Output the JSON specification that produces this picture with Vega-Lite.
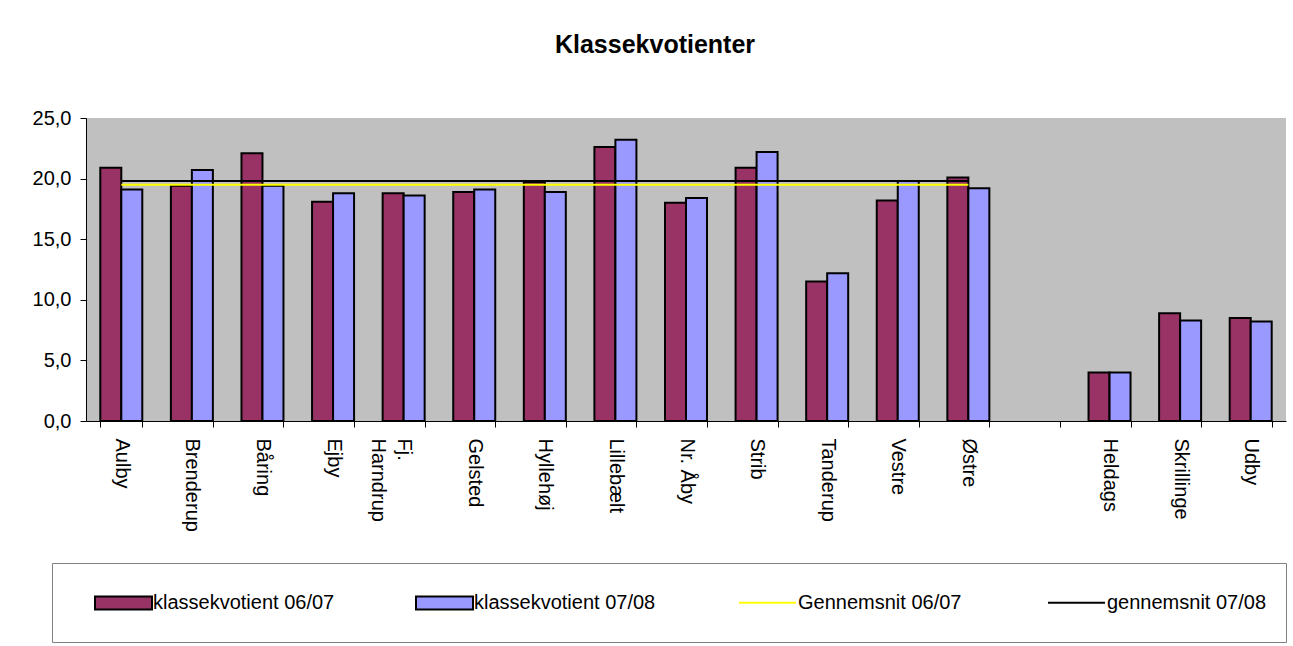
{
  "$schema": "https://vega.github.io/schema/vega-lite/v6.json",
  "autosize": "none",
  "width": 1200,
  "height": 303,
  "padding": {"left": 86, "top": 118, "right": 7, "bottom": 225},
  "background": "white",
  "title": {"text": "Klassekvotienter", "anchor": "middle", "frame": "group", "dx": -31, "offset": 30, "baseline": "alphabetic", "fontSize": 25, "font": "Liberation Sans", "fontWeight": "bold", "color": "#000000"},
  "config": {
    "font": "Liberation Sans",
    "view": {"fill": "#C0C0C0", "stroke": null}
  },
  "datasets": {
    "bars": [
      {"school": "Aulby", "series": "klassekvotient 06/07", "value": 20.9},
      {"school": "Aulby", "series": "klassekvotient 07/08", "value": 19.1},
      {"school": "Brenderup", "series": "klassekvotient 06/07", "value": 19.4},
      {"school": "Brenderup", "series": "klassekvotient 07/08", "value": 20.7},
      {"school": "Båring", "series": "klassekvotient 06/07", "value": 22.1},
      {"school": "Båring", "series": "klassekvotient 07/08", "value": 19.4},
      {"school": "Ejby", "series": "klassekvotient 06/07", "value": 18.1},
      {"school": "Ejby", "series": "klassekvotient 07/08", "value": 18.8},
      {"school": "Fj. Harndrup", "series": "klassekvotient 06/07", "value": 18.8},
      {"school": "Fj. Harndrup", "series": "klassekvotient 07/08", "value": 18.6},
      {"school": "Gelsted", "series": "klassekvotient 06/07", "value": 18.9},
      {"school": "Gelsted", "series": "klassekvotient 07/08", "value": 19.1},
      {"school": "Hyllehøj", "series": "klassekvotient 06/07", "value": 19.7},
      {"school": "Hyllehøj", "series": "klassekvotient 07/08", "value": 18.9},
      {"school": "Lillebælt", "series": "klassekvotient 06/07", "value": 22.6},
      {"school": "Lillebælt", "series": "klassekvotient 07/08", "value": 23.2},
      {"school": "Nr. Åby", "series": "klassekvotient 06/07", "value": 18.0},
      {"school": "Nr. Åby", "series": "klassekvotient 07/08", "value": 18.4},
      {"school": "Strib", "series": "klassekvotient 06/07", "value": 20.9},
      {"school": "Strib", "series": "klassekvotient 07/08", "value": 22.2},
      {"school": "Tanderup", "series": "klassekvotient 06/07", "value": 11.5},
      {"school": "Tanderup", "series": "klassekvotient 07/08", "value": 12.2},
      {"school": "Vestre", "series": "klassekvotient 06/07", "value": 18.2},
      {"school": "Vestre", "series": "klassekvotient 07/08", "value": 19.8},
      {"school": "Østre", "series": "klassekvotient 06/07", "value": 20.1},
      {"school": "Østre", "series": "klassekvotient 07/08", "value": 19.2},
      {"school": "Heldags", "series": "klassekvotient 06/07", "value": 4.0},
      {"school": "Heldags", "series": "klassekvotient 07/08", "value": 4.0},
      {"school": "Skrillinge", "series": "klassekvotient 06/07", "value": 8.9},
      {"school": "Skrillinge", "series": "klassekvotient 07/08", "value": 8.3},
      {"school": "Udby", "series": "klassekvotient 06/07", "value": 8.5},
      {"school": "Udby", "series": "klassekvotient 07/08", "value": 8.2}
    ],
    "lines": [
      {"school": "Aulby", "series": "Gennemsnit 06/07", "value": 19.5},
      {"school": "Brenderup", "series": "Gennemsnit 06/07", "value": 19.5},
      {"school": "Båring", "series": "Gennemsnit 06/07", "value": 19.5},
      {"school": "Ejby", "series": "Gennemsnit 06/07", "value": 19.5},
      {"school": "Fj. Harndrup", "series": "Gennemsnit 06/07", "value": 19.5},
      {"school": "Gelsted", "series": "Gennemsnit 06/07", "value": 19.5},
      {"school": "Hyllehøj", "series": "Gennemsnit 06/07", "value": 19.5},
      {"school": "Lillebælt", "series": "Gennemsnit 06/07", "value": 19.5},
      {"school": "Nr. Åby", "series": "Gennemsnit 06/07", "value": 19.5},
      {"school": "Strib", "series": "Gennemsnit 06/07", "value": 19.5},
      {"school": "Tanderup", "series": "Gennemsnit 06/07", "value": 19.5},
      {"school": "Vestre", "series": "Gennemsnit 06/07", "value": 19.5},
      {"school": "Østre", "series": "Gennemsnit 06/07", "value": 19.5},
      {"school": "Aulby", "series": "gennemsnit 07/08", "value": 19.8},
      {"school": "Brenderup", "series": "gennemsnit 07/08", "value": 19.8},
      {"school": "Båring", "series": "gennemsnit 07/08", "value": 19.8},
      {"school": "Ejby", "series": "gennemsnit 07/08", "value": 19.8},
      {"school": "Fj. Harndrup", "series": "gennemsnit 07/08", "value": 19.8},
      {"school": "Gelsted", "series": "gennemsnit 07/08", "value": 19.8},
      {"school": "Hyllehøj", "series": "gennemsnit 07/08", "value": 19.8},
      {"school": "Lillebælt", "series": "gennemsnit 07/08", "value": 19.8},
      {"school": "Nr. Åby", "series": "gennemsnit 07/08", "value": 19.8},
      {"school": "Strib", "series": "gennemsnit 07/08", "value": 19.8},
      {"school": "Tanderup", "series": "gennemsnit 07/08", "value": 19.8},
      {"school": "Vestre", "series": "gennemsnit 07/08", "value": 19.8},
      {"school": "Østre", "series": "gennemsnit 07/08", "value": 19.8}
    ]
  },
  "layer": [
    {
      "data": {"name": "bars"},
      "mark": {"type": "bar", "stroke": "#000000", "strokeWidth": 2},
      "encoding": {
        "x": {
          "field": "school", "type": "nominal", "sort": null,
          "scale": {"domain": ["Aulby","Brenderup","Båring","Ejby","Fj. Harndrup","Gelsted","Hyllehøj","Lillebælt","Nr. Åby","Strib","Tanderup","Vestre","Østre","gap","Heldags","Skrillinge","Udby"], "paddingInner": 0.405, "paddingOuter": 0.2025},
          "axis": {
            "title": null, "labelAngle": 90, "labelAlign": "left", "labelBaseline": "middle",
            "labelFontSize": 20, "labelColor": "#000000", "labelFont": "Liberation Sans", "labelPadding": 11, "labelLimit": 400,
            "labelLineHeight": 26,
            "labelExpr": "datum.value == 'gap' ? '' : datum.value == 'Fj. Harndrup' ? ['Fj.', 'Harndrup'] : datum.label",
            "tickBand": "extent", "tickSize": 6, "tickColor": "#000000", "domainColor": "#000000", "grid": false
          }
        },
        "xOffset": {"field": "series", "type": "nominal", "scale": {"domain": ["klassekvotient 06/07", "klassekvotient 07/08"], "paddingInner": 0, "paddingOuter": 0}},
        "y": {
          "field": "value", "type": "quantitative",
          "scale": {"domain": [0, 25], "nice": false, "zero": true},
          "axis": {
            "title": null, "values": [0, 5, 10, 15, 20, 25], "grid": false,
            "labelExpr": "replace(format(datum.value, '.1f'), '.', ',')",
            "labelFontSize": 20, "labelColor": "#000000", "labelFont": "Liberation Sans", "labelPadding": 9,
            "tickSize": 6, "tickColor": "#000000", "domainColor": "#000000"
          }
        },
        "fill": {
          "field": "series", "type": "nominal",
          "scale": {"domain": ["klassekvotient 06/07", "klassekvotient 07/08"], "range": ["#993366", "#9999FF"]},
          "legend": {
            "orient": "none", "legendX": -34, "legendY": 445,
            "direction": "horizontal", "columns": 2, "columnPadding": 48,
            "title": " ", "titleOrient": "right", "titleFontSize": 59, "titleBaseline": "top", "titleAnchor": "start", "titlePadding": 621,
            "padding": 10, "strokeColor": "#808080",
            "symbolType": "M-1,-0.23H1V0.23H-1Z", "symbolSize": 3249, "symbolStrokeWidth": 2, "symbolStrokeColor": "#000000",
            "symbolOffset": 32, "labelOffset": 0, "symbolOpacity": 1,
            "labelFontSize": 20, "labelFont": "Liberation Sans", "labelColor": "#000000", "labelLimit": 400
          }
        }
      }
    },
    {
      "data": {"name": "lines"},
      "mark": {"type": "line", "strokeWidth": 2},
      "encoding": {
        "x": {"field": "school", "type": "nominal", "sort": null, "bandPosition": 0.5},
        "y": {"field": "value", "type": "quantitative"},
        "stroke": {
          "field": "series", "type": "nominal",
          "scale": {"domain": ["Gennemsnit 06/07", "gennemsnit 07/08"], "range": ["#FFFF00", "#000000"]},
          "legend": {
            "orient": "none", "legendX": 642, "legendY": 445,
            "direction": "horizontal", "columns": 2, "columnPadding": 82,
            "title": null, "padding": 10,
            "symbolType": "stroke", "symbolSize": 3249, "symbolStrokeWidth": 2, "labelOffset": 1, "symbolOpacity": 1,
            "labelFontSize": 20, "labelFont": "Liberation Sans", "labelColor": "#000000", "labelLimit": 400
          }
        }
      }
    }
  ]
}
